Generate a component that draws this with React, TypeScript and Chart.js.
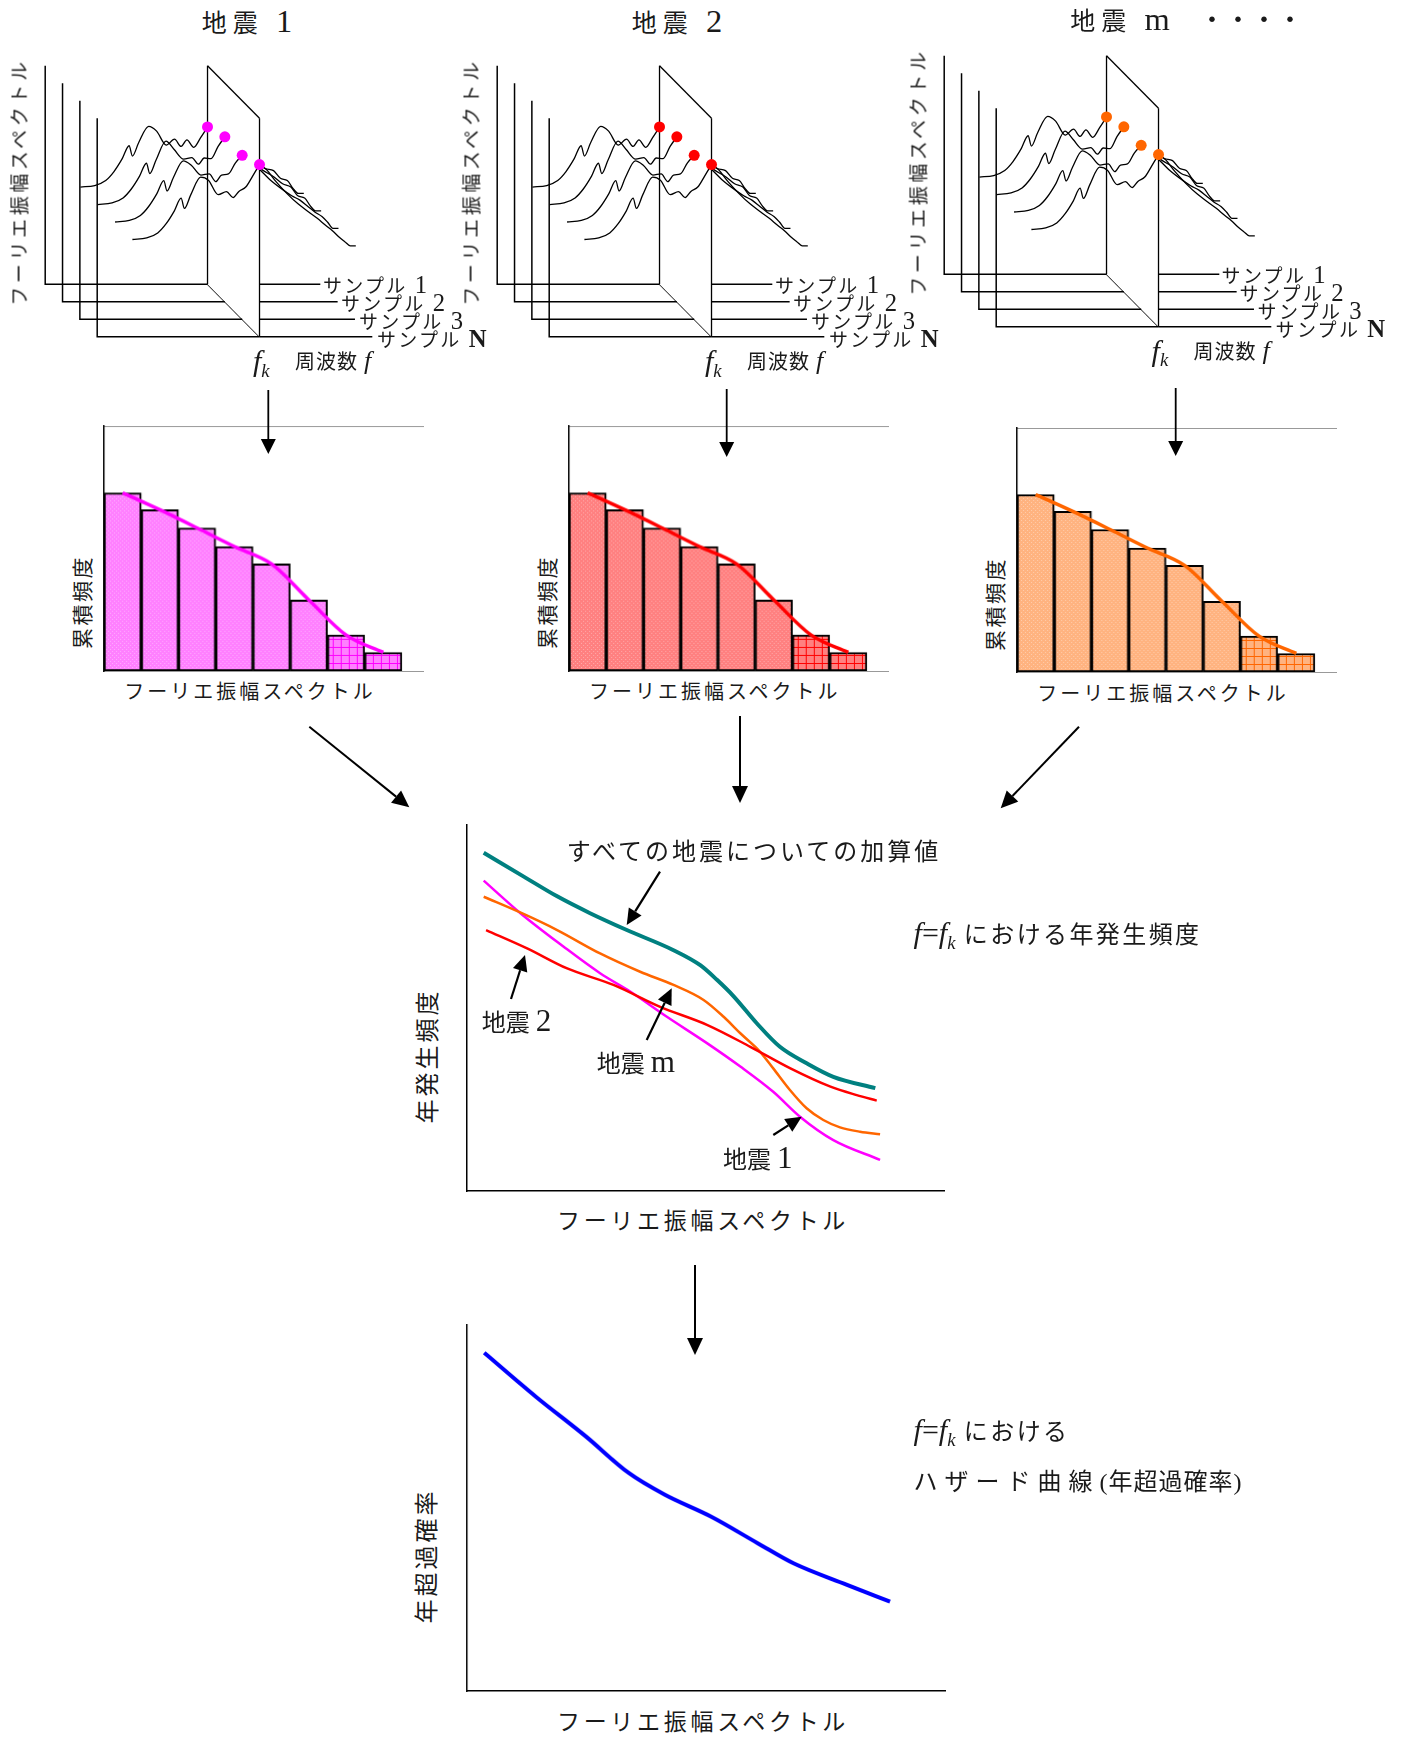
import React, { useEffect, useRef } from "react";
import { Chart, registerables } from "chart.js";

Chart.register(...registerables);

// ---------------- Fourier spectra of the samples (waterfall panels) ----------------
const FREQ = [1.28, 1.8, 2.2, 2.5, 2.8, 3.05, 3.17, 3.4, 3.76, 4.05, 4.4, 4.7, 4.94, 5.15, 5.4, 5.65, 5.9, 6.15, 6.5, 6.9, 7.3, 7.7, 8.0, 8.3, 8.55, 8.8, 9.0, 9.2, 9.4];
const SAMPLE_1 = [4.45, 4.52, 4.75, 5.16, 5.75, 6.34, 5.87, 6.49, 7.23, 7.01, 6.37, 6.64, 6.31, 6.61, 6.27, 6.71, 7.2, 6.9, 6.5, 6.2, 5.95, 5.55, 5.3, 5.2, 4.85, 4.75, 4.4, 4.16, 4.16];
const SAMPLE_2 = [4.45, 4.52, 4.75, 5.16, 5.75, 6.34, 5.87, 6.49, 7.35, 6.98, 6.53, 6.6, 6.3, 6.58, 6.55, 7.1, 7.55, 7.2, 6.7, 6.35, 6.0, 5.7, 5.4, 5.25, 4.85, 4.75, 4.4, 4.16, 4.16];
const SAMPLE_3 = [4.45, 4.52, 4.75, 5.16, 5.75, 6.34, 5.87, 6.49, 7.25, 7.05, 6.6, 6.65, 6.3, 6.6, 6.65, 7.15, 7.5, 7.3, 6.9, 6.4, 6.0, 5.65, 5.45, 5.15, 4.9, 4.7, 4.45, 4.16, 4.16];
const SAMPLE_N = [4.45, 4.52, 4.75, 5.16, 5.75, 6.34, 5.87, 6.49, 7.3, 7.15, 6.5, 6.64, 6.37, 6.65, 6.85, 7.35, 7.88, 7.65, 7.1, 6.55, 6.08, 5.7, 5.42, 5.1, 4.85, 4.55, 4.35, 4.16, 4.16];
const F_K = 5.9;
const F_AXIS_MAX = 10;
const AMP_AXIS_MAX = 10;

// ---------------- cumulative frequency of the amplitude at f = fk ----------------
const AMP_BINS = [0.5, 1.5, 2.5, 3.5, 4.5, 5.5, 6.5, 7.5];
const CUM_FREQ_Q1 = [72.7, 65.8, 58.4, 50.8, 43.7, 29.0, 14.7, 7.6];
const CUM_FREQ_Q2 = [72.7, 65.8, 58.4, 50.8, 43.7, 29.0, 14.7, 7.6];
const CUM_FREQ_QM = [72.7, 65.8, 58.4, 50.8, 43.7, 29.0, 14.7, 7.6];

// ---------------- annual occurrence frequency at f = fk ----------------
const TOTAL_X = [0.35, 1.19, 1.89, 2.58, 3.35, 4.33, 4.89, 5.24, 5.59, 6.07, 6.56, 7.12, 7.68, 8.56];
const TOTAL_Y = [9.24, 8.59, 8.05, 7.59, 7.13, 6.58, 6.17, 5.77, 5.32, 4.59, 3.94, 3.49, 3.12, 2.81];
const Q1_X = [0.35, 1.12, 2.02, 2.79, 3.42, 4.19, 5.03, 5.73, 6.42, 6.98, 7.68, 8.66];
const Q1_Y = [8.48, 7.59, 6.68, 5.95, 5.45, 4.76, 4.04, 3.4, 2.71, 2.03, 1.39, 0.85];
const Q2_X = [0.4, 1.26, 2.1, 3.07, 4.05, 5.03, 5.94, 6.78, 7.62, 8.17, 8.59];
const Q2_Y = [7.13, 6.63, 6.08, 5.63, 5.03, 4.54, 3.94, 3.35, 2.85, 2.62, 2.47];
const QM_X = [0.35, 1.15, 1.89, 2.79, 3.63, 4.33, 4.96, 5.38, 5.73, 6.14, 6.42, 6.77, 7.12, 7.47, 7.82, 8.24, 8.66];
const QM_Y = [8.04, 7.59, 7.13, 6.49, 5.99, 5.63, 5.22, 4.76, 4.31, 3.81, 3.35, 2.76, 2.26, 1.94, 1.74, 1.62, 1.55];

// ---------------- hazard curve (annual exceedance probability) ----------------
const HAZARD_X = [0.36, 1.44, 2.49, 3.39, 4.14, 5.11, 6.08, 6.83, 7.95, 8.85];
const HAZARD_Y = [9.24, 8.04, 6.95, 5.95, 5.36, 4.76, 4.04, 3.49, 2.9, 2.44];

const FONT = '"Liberation Serif", "Noto Sans CJK JP", serif';

type Pt = { x: number; y: number };

// oblique projection of the waterfall: shift per sample depth, in data units
const DEPTH_DF = 0.63;
const DEPTH_DA = 0.8;
const PX_PER_F = 28.2;
const PX_PER_A = 22.6;

const baseOptions = {
  animation: false as const,
  responsive: false,
  events: [] as any[],
  plugins: { legend: { display: false }, tooltip: { enabled: false } },
};

function waterfallConfig(samples: number[][], dotColor: string, w: number, h: number, ox: number, oy: number) {
  const proj = (f: number, a: number, d: number): Pt => ({ x: f + d * DEPTH_DF, y: a - d * DEPTH_DA });
  const last = samples.length - 1;
  const kIdx = FREQ.indexOf(F_K);
  const base = { borderColor: "#000", borderWidth: 1.3, pointRadius: 0, fill: false };
  const ds: any[] = [];
  // parts lying behind the fk plane
  samples.forEach((s, d) => {
    ds.push({
      ...base, order: 10, cubicInterpolationMode: "monotone",
      data: FREQ.map((f, i) => (f >= F_K ? proj(f, s[i], d) : null)).filter(Boolean),
    });
    ds.push({ ...base, borderWidth: 1.5, order: 10, data: [proj(F_K, 0, d), proj(F_AXIS_MAX, 0, d)] });
  });
  // the f = fk plane
  ds.push({ ...base, order: 8, fill: "+1", backgroundColor: "#ffffff", data: [proj(F_K, AMP_AXIS_MAX, 0), proj(F_K, AMP_AXIS_MAX, last)] });
  ds.push({ ...base, order: 8, data: [proj(F_K, 0, 0), proj(F_K, 0, last)] });
  ds.push({ ...base, order: 7, data: [proj(F_K, 0, 0), proj(F_K, AMP_AXIS_MAX, 0)] });
  ds.push({ ...base, order: 7, data: [proj(F_K, 0, last), proj(F_K, AMP_AXIS_MAX, last)] });
  // parts in front of the plane
  samples.forEach((s, d) => {
    ds.push({ ...base, borderWidth: 1.5, order: 5, data: [proj(0, AMP_AXIS_MAX, d), proj(0, 0, d), proj(F_K, 0, d)] });
    ds.push({
      ...base, order: 5, cubicInterpolationMode: "monotone",
      data: FREQ.map((f, i) => (f <= F_K ? proj(f, s[i], d) : null)).filter(Boolean),
    });
  });
  // amplitude of each sample at fk
  ds.push({
    order: 1, showLine: false, pointRadius: 5.5, pointBorderWidth: 0,
    pointBackgroundColor: dotColor, borderColor: dotColor,
    data: samples.map((s, d) => proj(F_K, s[kIdx], d)),
  });
  const xMin = -ox / PX_PER_F;
  const yMax = oy / PX_PER_A;
  return {
    type: "line",
    data: { datasets: ds },
    options: {
      ...baseOptions,
      layout: { padding: 0 },
      scales: {
        x: { type: "linear", display: false, min: xMin, max: xMin + w / PX_PER_F },
        y: { type: "linear", display: false, min: yMax - h / PX_PER_A, max: yMax },
      },
    },
  };
}

function makePattern(base: string, line: string, grid: boolean): CanvasPattern | string {
  const c = document.createElement("canvas");
  const n = grid ? 8 : 4;
  c.width = n;
  c.height = n;
  const g = c.getContext("2d");
  if (!g) return base;
  g.fillStyle = base;
  g.fillRect(0, 0, n, n);
  if (grid) {
    g.fillStyle = line;
    g.fillRect(0, 0, n, 1);
    g.fillRect(0, 0, 1, n);
  } else {
    g.fillStyle = "rgba(255,255,255,0.35)";
    g.fillRect(0, 0, 1, 1);
    g.fillRect(2, 2, 1, 1);
  }
  return g.createPattern(c, "repeat") || base;
}

const hiddenGrid = { display: false, drawTicks: false };

function histogramConfig(values: number[], barColor: string, lineColor: string, xMax: number) {
  const solid = makePattern(barColor, lineColor, false);
  const gridded = makePattern(barColor, lineColor, true);
  const pts = AMP_BINS.map((x, i) => ({ x, y: values[i] }));
  return {
    type: "bar",
    data: {
      datasets: [
        { type: "line", order: 0, data: pts, borderColor: lineColor, borderWidth: 3.5, pointRadius: 0, cubicInterpolationMode: "monotone", fill: false },
        {
          type: "bar", order: 1, data: pts,
          backgroundColor: values.map((_, i) => (i >= 6 ? gridded : solid)),
          borderColor: "#000", borderWidth: 2, borderSkipped: false,
          barPercentage: 1, categoryPercentage: 1,
        },
      ],
    },
    options: {
      ...baseOptions,
      layout: { padding: 4 },
      scales: {
        x: {
          type: "linear", offset: false, min: 0, max: xMax, grid: hiddenGrid, ticks: { display: false },
          border: { display: true, color: "#999", width: 1 },
          afterBuildTicks: (s: any) => { s.ticks = AMP_BINS.map((v) => ({ value: v })); },
        },
        xTop: {
          type: "linear", position: "top", offset: false, min: 0, max: xMax, grid: hiddenGrid, ticks: { display: false },
          border: { display: true, color: "#999", width: 1 },
        },
        y: { min: 0, max: 100, grid: hiddenGrid, ticks: { display: false }, border: { display: true, color: "#000", width: 1.5 } },
      },
    },
  };
}

function curvesConfig(series: { xs: number[]; ys: number[]; color: string; width: number }[]) {
  return {
    type: "line",
    data: {
      datasets: series.map((s) => ({
        data: s.xs.map((x, i) => ({ x, y: s.ys[i] })),
        borderColor: s.color, borderWidth: s.width, pointRadius: 0,
        cubicInterpolationMode: "monotone", fill: false,
      })),
    },
    options: {
      ...baseOptions,
      layout: { padding: 10 },
      scales: {
        x: { type: "linear", min: 0, max: 10, grid: hiddenGrid, ticks: { display: false }, border: { display: true, color: "#000", width: 1.5 } },
        y: { type: "linear", min: 0, max: 10, grid: hiddenGrid, ticks: { display: false }, border: { display: true, color: "#000", width: 1.5 } },
      },
    },
  };
}

function ChartCanvas({ left, top, width, height, make }: { left: number; top: number; width: number; height: number; make: () => any }) {
  const ref = useRef<HTMLCanvasElement>(null);
  useEffect(() => {
    if (!ref.current) return;
    const chart = new Chart(ref.current, make());
    return () => chart.destroy();
  }, []);
  return <canvas ref={ref} width={width} height={height} style={{ position: "absolute", left, top, width, height }} />;
}

type TxtProps = { x: number; y: number; size?: number; ls?: number; align?: "left" | "center"; rotate?: boolean; children: React.ReactNode };
function Txt({ x, y, size = 20, ls = 0, align = "left", rotate = false, children }: TxtProps) {
  const transform = rotate ? "translate(-50%,-50%) rotate(-90deg)" : align === "center" ? "translate(-50%,-50%)" : "translateY(-50%)";
  return (
    <div style={{ position: "absolute", left: x, top: y, fontSize: size, letterSpacing: ls, lineHeight: 1, whiteSpace: "nowrap", transform, transformOrigin: "center" }}>
      {children}
    </div>
  );
}

// Latin letters and digits set a little larger than the Japanese glyphs
const L = ({ children, italic = false, bold = false }: { children: React.ReactNode; italic?: boolean; bold?: boolean }) => (
  <span style={{ fontSize: "1.3em", lineHeight: 0, fontStyle: italic ? "italic" : "normal", fontWeight: bold ? 700 : 400, letterSpacing: 0 }}>{children}</span>
);

const Fk = () => (
  <span style={{ fontStyle: "italic", lineHeight: 0 }}>
    f<span style={{ fontSize: "0.62em", position: "relative", top: "0.3em" }}>k</span>
  </span>
);
const FeqFk = () => (
  <span style={{ letterSpacing: 0, fontSize: "1.25em", lineHeight: 0 }}>
    <i>f</i>=<Fk />
  </span>
);

function Arrow({ x1, y1, x2, y2, w = 1.8, head = 15, half = 7.5 }: { x1: number; y1: number; x2: number; y2: number; w?: number; head?: number; half?: number }) {
  const dx = x2 - x1, dy = y2 - y1;
  const len = Math.hypot(dx, dy);
  const ux = dx / len, uy = dy / len;
  const bx = x2 - ux * head, by = y2 - uy * head;
  const px = -uy * half, py = ux * half;
  return (
    <g>
      <line x1={x1} y1={y1} x2={bx} y2={by} stroke="#000" strokeWidth={w} />
      <polygon points={`${x2},${y2} ${bx + px},${by + py} ${bx - px},${by - py}`} fill="#000" />
    </g>
  );
}

const QUAKES = [
  { name: "1", titleX: 247, titleY: 23, ox: 0, oy: 0, hx: 0, hy: 0, samples: [SAMPLE_1, SAMPLE_2, SAMPLE_3, SAMPLE_N], cum: CUM_FREQ_Q1, bar: "#ff80ff", line: "#ff00ff" },
  { name: "2", titleX: 677, titleY: 23, ox: 452, oy: 0, hx: 464.7, hy: 0, samples: [SAMPLE_1, SAMPLE_2, SAMPLE_3, SAMPLE_N], cum: CUM_FREQ_Q2, bar: "#ff8080", line: "#ff0000" },
  { name: "m", titleX: 1120, titleY: 21, ox: 898.6, oy: -10.3, hx: 913, hy: 1.6, samples: [SAMPLE_1, SAMPLE_2, SAMPLE_3, SAMPLE_N], cum: CUM_FREQ_QM, bar: "#ffb380", line: "#ff6600" },
];

const SAMPLE_NAMES = ["1", "2", "3", "N"];

export default function App() {
  const W1 = 450, H1 = 330;
  const HW = 318.7, HH = 244.7;
  return (
    <div style={{ position: "absolute", left: 0, top: 0, width: 1413, height: 1737, background: "#fff", fontFamily: FONT, color: "#1a1a1a", overflow: "hidden" }}>
      {QUAKES.map((q, p) => (
        <React.Fragment key={p}>
          <ChartCanvas left={q.ox} top={40 + q.oy} width={W1} height={H1} make={() => waterfallConfig(q.samples, q.line, W1, H1, 40.7, 247)} />
          <Txt x={q.titleX} y={q.titleY} size={25} ls={6} align="center">地震 <L>{q.name}</L></Txt>
          <Txt x={20 + q.ox} y={182 + q.oy} size={19} ls={3.6} rotate>フーリエ振幅スペクトル</Txt>
          {SAMPLE_NAMES.map((n, d) => (
            <Txt key={n} x={323 + 18 * d + q.ox} y={286 + 18 * d + q.oy} size={19} ls={2.3}>
              サンプル <L bold={n === "N"}>{n}</L>
            </Txt>
          ))}
          <Txt x={253 + q.ox} y={361 + q.oy} size={30}><Fk /></Txt>
          <Txt x={295 + q.ox} y={362 + q.oy} size={20} ls={1}>周波数 <L italic>f</L></Txt>

          <ChartCanvas left={100.3 + q.hx} top={422 + q.hy} width={HW + 8} height={HH + 8} make={() => histogramConfig(q.cum, q.bar, q.line, HW / 37.2)} />
          <Txt x={83 + q.hx} y={602 + q.hy} size={21} ls={2.5} rotate>累積頻度</Txt>
          <Txt x={250 + q.hx} y={692 + q.hy} size={20} ls={3} align="center">フーリエ振幅スペクトル</Txt>
        </React.Fragment>
      ))}
      <Txt x={1199} y={21} size={26}>・・・・</Txt>

      <ChartCanvas left={456.7} top={815} width={497.3} height={386} make={() => curvesConfig([
        { xs: Q2_X, ys: Q2_Y, color: "#ff0000", width: 2.5 },
        { xs: QM_X, ys: QM_Y, color: "#ff6600", width: 2.5 },
        { xs: Q1_X, ys: Q1_Y, color: "#ff00ff", width: 2.5 },
        { xs: TOTAL_X, ys: TOTAL_Y, color: "#008080", width: 4 },
      ])} />
      <Txt x={428} y={1056} size={24} ls={3} rotate>年発生頻度</Txt>
      <Txt x={703} y={1221} size={23} ls={3.7} align="center">フーリエ振幅スペクトル</Txt>
      <Txt x={754} y={852} size={24} ls={3} align="center">すべての地震についての加算値</Txt>
      <Txt x={481.7} y={1023} size={24}>地震 <L>2</L></Txt>
      <Txt x={596.7} y={1064} size={24}>地震 <L>m</L></Txt>
      <Txt x={723} y={1160} size={24}>地震 <L>1</L></Txt>
      <Txt x={913.6} y={935} size={24} ls={2.4}><FeqFk /> における年発生頻度</Txt>

      <ChartCanvas left={456.8} top={1315} width={497.8} height={386} make={() => curvesConfig([
        { xs: HAZARD_X, ys: HAZARD_Y, color: "#0000ff", width: 4 },
      ])} />
      <Txt x={427} y={1556} size={24} ls={3} rotate>年超過確率</Txt>
      <Txt x={703} y={1722} size={23} ls={3.7} align="center">フーリエ振幅スペクトル</Txt>
      <Txt x={913.6} y={1432} size={24} ls={2.4}><FeqFk /> における</Txt>
      <Txt x={913.6} y={1482} size={24}>
        <span style={{ letterSpacing: 7 }}>ハザード曲線</span>
        <span style={{ letterSpacing: 1 }}>(年超過確率)</span>
      </Txt>

      <svg width={1413} height={1737} style={{ position: "absolute", left: 0, top: 0, pointerEvents: "none" }}>
        <Arrow x1={268.3} y1={390} x2={268.3} y2={454} />
        <Arrow x1={726.7} y1={389} x2={726.7} y2={457} />
        <Arrow x1={1175.7} y1={388} x2={1175.7} y2={456} />
        <Arrow x1={309.3} y1={726.7} x2={409.3} y2={807.3} w={2} head={17} half={8} />
        <Arrow x1={740} y1={716} x2={740} y2={803} w={2} head={17} half={8} />
        <Arrow x1={1079} y1={726.7} x2={1000.7} y2={808.3} w={2} head={17} half={8} />
        <Arrow x1={695} y1={1265} x2={695} y2={1355} w={2} head={17} half={8} />
        <Arrow x1={660} y1={871.7} x2={626.7} y2={925} w={2.2} head={16} half={7.5} />
        <Arrow x1={511} y1={999} x2={525} y2={955} w={2.2} head={16} half={7.5} />
        <Arrow x1={646.7} y1={1040} x2={671.7} y2={988.3} w={2.2} head={16} half={7.5} />
        <Arrow x1={773.3} y1={1135} x2={801.7} y2={1116.7} w={2.2} head={16} half={7.5} />
      </svg>
    </div>
  );
}
